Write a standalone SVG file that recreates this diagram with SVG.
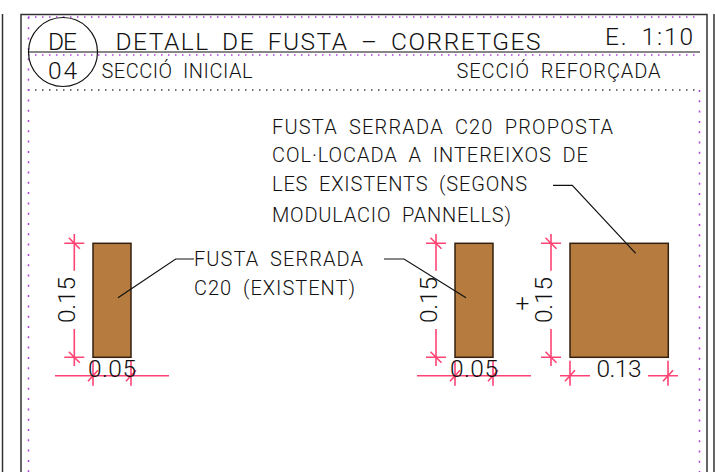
<svg xmlns="http://www.w3.org/2000/svg" width="715" height="472" viewBox="0 0 715 472">
<style>
text{font-family:"Roboto","Liberation Sans",Arial,sans-serif;font-weight:300;fill:#111;font-size:20px;word-spacing:5px}
.b{font-size:24.500px}
.frame{fill:none;stroke:#333;stroke-width:1.5}
.dot{fill:none;stroke:#b040e0;stroke-width:1.5;stroke-dasharray:1.5 5.5}
.dotv{fill:none;stroke:#b040e0;stroke-width:1.5;stroke-dasharray:2 8.3}
.ink{fill:none;stroke:#111;stroke-width:1.2}
.dim{fill:none;stroke:#ff4474;stroke-width:1.6}
.wood{fill:#b57b3f;stroke:#33200f;stroke-width:1.5}
</style>
<defs>
<g id="vt" class="dim"><path d="M-10 0H10M-5.500 -5.500L5.500 5.500"/></g>
<g id="ht" class="dim"><path d="M0 -15V10M-5 5.500L5 -5.500"/></g>
</defs>
<g id="frames">
<path class="frame" d="M2.500 14V472M21 472V14.500H707V472M714 14V472"/>
<path class="dot" d="M28 17H700M28 55H700"/>
<path class="dot" style="stroke:#444" d="M28 90H700"/>
<path class="dotv" d="M28.500 17V472M699.500 90V472"/>
</g>
<g id="title">
<path class="ink" d="M28.500 52H700"/>
<circle class="ink" cx="63" cy="52" r="34.500"/>
<text class="b" x="48" y="49.500" textLength="29">DE</text>
<text class="b" x="48" y="78.500" textLength="29">04</text>
<text class="b" x="115.500" y="49.500" textLength="425">DETALL DE FUSTA – CORRETGES</text>
<text class="b" x="605" y="45" textLength="88">E. 1:10</text>
<text x="101.500" y="77.500" textLength="151">SECCIÓ INICIAL</text>
<text x="456.500" y="77.500" textLength="204">SECCIÓ REFORÇADA</text>
</g>
<g id="note-proposta">
<text x="272" y="133.500" textLength="341">FUSTA SERRADA C20 PROPOSTA</text>
<text x="272" y="161.500" textLength="316">COL·LOCADA A INTEREIXOS DE</text>
<text x="272" y="191" textLength="255">LES EXISTENTS (SEGONS</text>
<text x="272" y="221.500" textLength="239">MODULACIO PANNELLS)</text>
</g>
<g id="note-existent">
<text x="194" y="266" textLength="169">FUSTA SERRADA</text>
<text x="194" y="295" textLength="161">C20 (EXISTENT)</text>
</g>
<g id="section-inicial">
<rect class="wood" x="93" y="243.300" width="38" height="114"/>
</g>
<g id="section-reforcada-1">
<rect class="wood" x="455" y="243.300" width="38" height="114"/>
</g>
<g id="section-reforcada-2">
<rect class="wood" x="570" y="243.300" width="98.300" height="114"/>
</g>
<g id="connectors">
<path class="ink" d="M118 297.700L175.700 259H194"/>
<path class="ink" d="M384 259H404L466 297.700"/>
<path class="ink" d="M553 185.300H572.300L635.700 253.300"/>
<path class="dim" d="M74.300 234V270.700M74.300 329V366M55 375.700H169"/>
<path class="dim" d="M436 234V270.700M436 329V366M417 375.700H531"/>
<path class="dim" d="M551 234V270.700M551 329V366M560 375.700H590M648 375.700H678"/>
<use href="#vt" x="74.300" y="243.300"/><use href="#vt" x="74.300" y="357.300"/>
<use href="#vt" x="436" y="243.300"/><use href="#vt" x="436" y="357.300"/>
<use href="#vt" x="551" y="243.300"/><use href="#vt" x="551" y="357.300"/>
<use href="#ht" x="93" y="375.700"/><use href="#ht" x="131" y="375.700"/>
<use href="#ht" x="455" y="375.700"/><use href="#ht" x="493" y="375.700"/>
<use href="#ht" x="570" y="375.700"/><use href="#ht" x="668" y="375.700"/>
</g>
<g id="dimensions">
<text class="b" transform="translate(75 323) rotate(-90)" textLength="46">0.15</text>
<text class="b" transform="translate(436.700 323) rotate(-90)" textLength="46">0.15</text>
<text class="b" transform="translate(552 323) rotate(-90)" textLength="46">0.15</text>
<text class="b" x="88" y="376.500" textLength="48">0.05</text>
<text class="b" x="450" y="376.500" textLength="48">0.05</text>
<text class="b" x="596.500" y="376.500" textLength="45">0.13</text>
<text class="b" x="522.300" y="312" text-anchor="middle">+</text>
</g>
</svg>
